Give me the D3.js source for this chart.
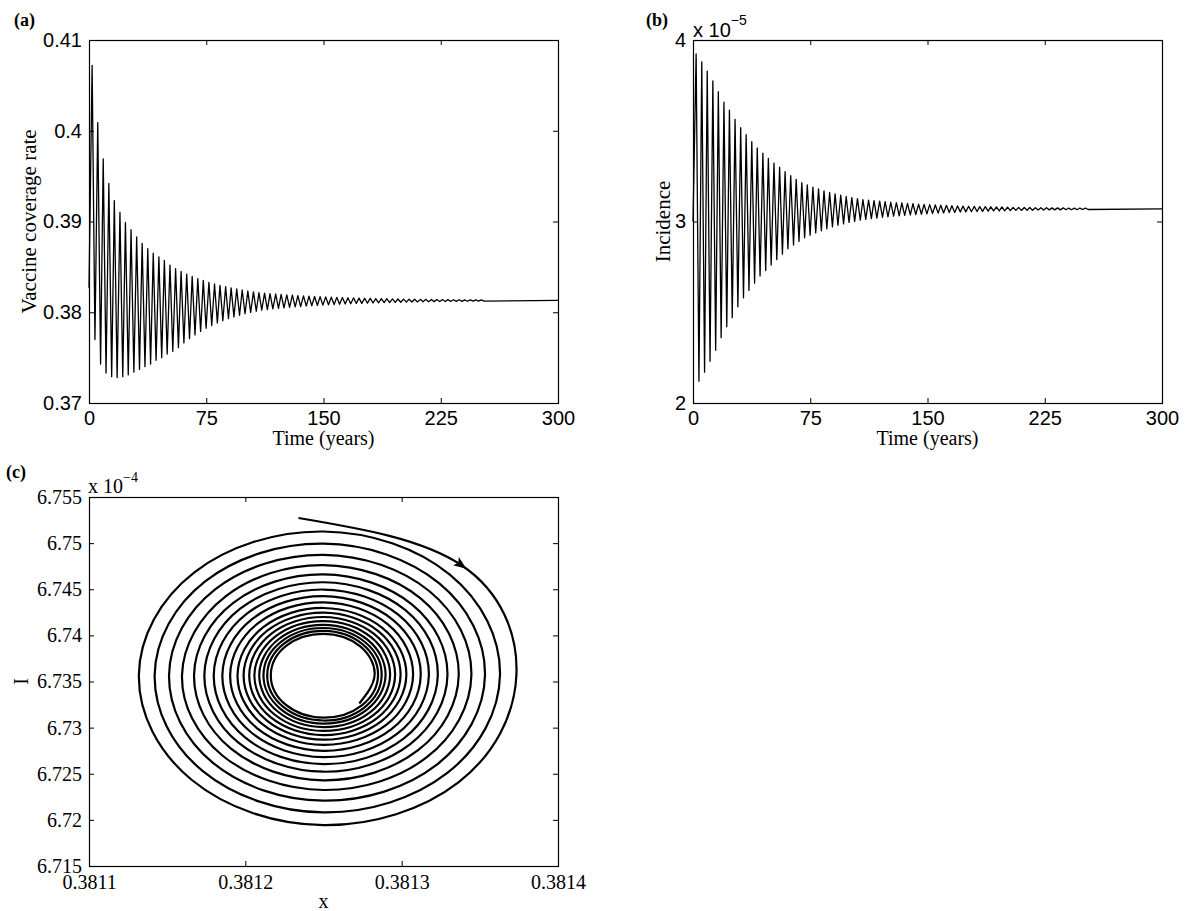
<!DOCTYPE html>
<html>
<head>
<meta charset="utf-8">
<script src="https://cdn.jsdelivr.net/npm/d3@7"></script>
<style>
  body { margin: 0; background: #fff; }
  .sans { font-family: "Liberation Sans", Arial, sans-serif; }
  .serif { font-family: "Liberation Serif", "Times New Roman", serif; }
</style>
</head>
<body>
<svg id="fig" width="1186" height="911"></svg>
<script>
// ---- tick labels ----
const timeTicks = [0, 75, 150, 225, 300];
const coverageTicks = [0.37, 0.38, 0.39, 0.4, 0.41];
const incidenceTicks = [2, 3, 4];          // x 10^-5
const phaseXTicks = [0.3811, 0.3812, 0.3813, 0.3814];
const phaseITicks = [6.715, 6.72, 6.725, 6.73, 6.735, 6.74, 6.745, 6.75, 6.755]; // x 10^-4

// ---- time series, read as local maxima / minima ----
const peakTimes = [2.0,5.6,9.1,12.7,16.2,19.8,23.3,26.9,30.5,34.0,37.6,41.1,44.7,48.2,51.8,55.4,
  58.9,62.5,66.0,69.6,73.1,76.7,80.3,83.8,87.4,90.9,94.5,98.0,101.6,105.2,108.7,112.3,115.8,119.4,
  122.9,126.5,130.1,133.6,137.2,140.7,144.3,147.8,151.4,155.0,158.5,162.1,165.6,169.2,172.7,176.3,
  179.9,183.4,187.0,190.5,194.1,197.6,201.2,204.7,208.3,211.9,215.4,219.0,222.5,226.1,229.6,233.2,
  236.8,240.3,243.9,247.4,251.0];
const troughTimes = [3.8,7.4,10.9,14.5,18.0,21.6,25.1,28.7,32.3,35.8,39.4,42.9,46.5,50.0,53.6,57.2,
  60.7,64.3,67.8,71.4,74.9,78.5,82.1,85.6,89.2,92.7,96.3,99.8,103.4,107.0,110.5,114.1,117.6,121.2,
  124.7,128.3,131.9,135.4,139.0,142.5,146.1,149.6,153.2,156.8,160.3,163.9,167.4,171.0,174.5,178.1,
  181.7,185.2,188.8,192.3,195.9,199.4,203.0,206.5,210.1,213.7,217.2,220.8,224.3,227.9,231.4,235.0,
  238.6,242.1,245.7,249.2,252.8];

const coverageStart = 0.3827;
const coverageEnd = 0.3813;
const coveragePeaks = [.4072,.4009,.3969,.3942,.3923,.3910,.3899,.3891,.3883,.3876,.3870,.3865,.3861,.3857,.3852,.3848,
  .38449,.38421,.38395,.38371,.38350,.38330,.38312,.38296,.38281,.38268,.38256,.38245,.38234,.38225,.38217,
  .38211,.38206,.38201,.38197,.38192,.38188,.38184,.38181,.38178,.38174,.38172,.38169,.38166,.38164,.38162,
  .38160,.38158,.38156,.38154,.38153,.38151,.38150,.38149,.38147,.38146,.38145,.38144,.38143,.38142,.38142,
  .38141,.38140,.38140,.38139,.38138,.38138,.38137,.38137,.38136,.38136];
const coverageTroughs = [.3770,.3743,.3733,.3729,.3728,.3729,.3731,.3734,.3737,.3740,.3743,.3747,.3750,.3754,.3757,.3761,
  .37662,.37709,.37751,.37789,.37823,.37854,.37881,.37906,.37929,.37949,.37967,.37983,.37998,.38011,.38023,
  .38030,.38037,.38043,.38048,.38054,.38059,.38063,.38068,.38072,.38075,.38079,.38082,.38085,.38088,.38091,
  .38094,.38096,.38098,.38100,.38102,.38104,.38106,.38107,.38109,.38110,.38111,.38113,.38114,.38115,.38116,
  .38117,.38118,.38118,.38119,.38120,.38120,.38121,.38122,.38122,.38123];

const incidenceStart = 3.0;
const incidenceEnd = 3.07;
const incidencePeaks = [3.923,3.880,3.829,3.774,3.715,3.657,3.614,3.563,3.517,3.478,3.440,3.405,3.376,3.348,3.321,3.299,
  3.274,3.252,3.232,3.214,3.201,3.189,3.179,3.169,3.160,3.152,3.145,3.138,3.132,3.126,3.121,
  3.118,3.115,3.112,3.109,3.106,3.104,3.102,3.100,3.098,3.096,3.094,3.093,3.091,3.090,3.089,
  3.087,3.086,3.085,3.084,3.083,3.082,3.082,3.081,3.080,3.080,3.079,3.078,3.078,3.077,3.077,
  3.076,3.076,3.076,3.075,3.075,3.075,3.074,3.074,3.074,3.0735];
const incidenceTroughs = [2.12,2.17,2.23,2.29,2.36,2.42,2.47,2.53,2.58,2.62,2.66,2.70,2.73,2.76,2.79,2.82,2.85,2.87,2.89,2.91,
  2.924,2.937,2.949,2.960,2.970,2.979,2.987,2.995,3.001,3.008,3.012,
  3.016,3.019,3.023,3.026,3.029,3.031,3.034,3.036,3.038,3.040,3.042,3.044,3.046,3.047,3.049,
  3.050,3.052,3.053,3.054,3.055,3.056,3.057,3.058,3.058,3.059,3.060,3.061,3.061,3.062,3.062,
  3.063,3.063,3.064,3.064,3.064,3.065,3.065,3.065,3.066,3.066];

// ---- phase plane (x, I x 10^-4): 8 points per turn, clockwise, spiralling in ----
const phaseX = [
  0.3812340,0.3813383,0.3813734,0.3813363,0.3812500,0.3811658,0.3811319,0.3811674,
  0.3812500,0.3813308,0.3813629,0.3813290,0.3812500,0.3811728,0.3811420,0.3811745,
  0.3812500,0.3813239,0.3813533,0.3813223,0.3812500,0.3811793,0.3811512,0.3811809,
  0.3812500,0.3813176,0.3813446,0.3813161,0.3812500,0.3811853,0.3811595,0.3811874,
  0.3812500,0.3813119,0.3813365,0.3813105,0.3812500,0.3811908,0.3811672,0.3811921,
  0.3812500,0.3813067,0.3813293,0.3813055,0.3812500,0.3811956,0.3811738,0.3811967,
  0.3812500,0.3813024,0.3813231,0.3813012,0.3812500,0.3811998,0.3811798,0.3812008,
  0.3812500,0.3812982,0.3813174,0.3812972,0.3812500,0.3812038,0.3811853,0.3812047,
  0.3812500,0.3812944,0.3813122,0.3812935,0.3812500,0.3812074,0.3811903,0.3812082,
  0.3812500,0.3812910,0.3813073,0.3812901,0.3812500,0.3812107,0.3811950,0.3812115,
  0.3812500,0.3812878,0.3813030,0.3812871,0.3812500,0.3812136,0.3811989,0.3812142,
  0.3812500,0.3812852,0.3812993,0.3812845,0.3812500,0.3812161,0.3812025,0.3812167,
  0.3812500,0.3812827,0.3812958,0.3812821,0.3812500,0.3812185,0.3812058,0.3812191,
  0.3812500,0.3812804,0.3812926,0.3812799,0.3812500,0.3812207,0.3812089,0.3812212,
  0.3812500,0.3812783,0.3812897,0.3812778,0.3812500,0.3812226,0.3812116,0.3812230,
  0.3812500,0.3812765,0.3812872,0.3812761,0.3812500,0.3812243,0.3812140,0.3812247,
  0.3812500,0.3812749,0.3812849,0.3812745,0.3812500,0.3812260,0.3812163,0.3812263,
  0.3812500,0.3812733,0.3812827,0.3812729];
const phaseI = [
  6.75272,6.74760,6.73570,6.72407,6.71943,6.72432,6.73570,6.74683,
  6.75126,6.74658,6.73570,6.72506,6.72081,6.72529,6.73570,6.74588,
  6.74994,6.74566,6.73570,6.72596,6.72208,6.72617,6.73570,6.74502,
  6.74873,6.74481,6.73570,6.72679,6.72324,6.72698,6.73570,6.74423,
  6.74762,6.74404,6.73570,6.72755,6.72429,6.72772,6.73570,6.74350,
  6.74661,6.74334,6.73570,6.72822,6.72522,6.72837,6.73570,6.74289,
  6.74576,6.74274,6.73570,6.72880,6.72604,6.72894,6.73570,6.74233,
  6.74497,6.74219,6.73570,6.72934,6.72680,6.72947,6.73570,6.74181,
  6.74425,6.74169,6.73570,6.72984,6.72749,6.72995,6.73570,6.74133,
  6.74358,6.74122,6.73570,6.73029,6.72813,6.73040,6.73570,6.74089,
  6.74297,6.74079,6.73570,6.73070,6.72869,6.73079,6.73570,6.74053,
  6.74246,6.74044,6.73570,6.73105,6.72918,6.73113,6.73570,6.74019,
  6.74199,6.74011,6.73570,6.73137,6.72964,6.73145,6.73570,6.73987,
  6.74155,6.73980,6.73570,6.73168,6.73006,6.73175,6.73570,6.73958,
  6.74114,6.73951,6.73570,6.73195,6.73044,6.73201,6.73570,6.73933,
  6.74080,6.73928,6.73570,6.73218,6.73077,6.73224,6.73570,6.73910,
  6.74048,6.73905,6.73570,6.73241,6.73108,6.73246,6.73570,6.73889,
  6.74017,6.73884,6.73570,6.73261];
const arrowIndex = 1;

const svg = d3.select("#fig");

// box with inward ticks on all four sides (matlab style)
function frame(g, x, y, xTicks, yTicks, font, size, xPad) {
  const w = x.range()[1], h = y.range()[0];
  const style = (a) => a.attr("font-family", null).attr("font-size", null).attr("class", font);

  g.append("g").attr("transform", `translate(0,${h})`)
    .call(d3.axisBottom(x).tickValues(xTicks).tickFormat(String).tickSizeInner(-5).tickSizeOuter(0).tickPadding(xPad))
    .call(style);
  g.append("g")
    .call(d3.axisTop(x).tickValues(xTicks).tickFormat("").tickSizeInner(-5).tickSizeOuter(0));
  g.append("g")
    .call(d3.axisLeft(y).tickValues(yTicks).tickFormat(String).tickSizeInner(-5).tickSizeOuter(0).tickPadding(7))
    .call(style);
  g.append("g").attr("transform", `translate(${w},0)`)
    .call(d3.axisRight(y).tickValues(yTicks).tickFormat("").tickSizeInner(-5).tickSizeOuter(0));

  g.selectAll(".domain").remove();
  g.selectAll(".tick text").attr("font-size", size).attr("fill", "#000");
  g.append("rect")
    .attr("x", 0.5).attr("y", 0.5)
    .attr("width", w).attr("height", h)
    .attr("fill", "none").attr("stroke", "#000").attr("stroke-width", 1.2);
}

function series(peaks, troughs, start, end) {
  const pts = [[0, start]];
  peakTimes.forEach((t, i) => {
    pts.push([t, peaks[i]]);
    pts.push([troughTimes[i], troughs[i]]);
  });
  pts.push([300, end]);
  return pts;
}

function timePanel(left, yDomain, yTicks, pts, ylabel, ylabelX) {
  const w = 469, h = 363;
  const g = svg.append("g").attr("transform", `translate(${left},40)`);
  const x = d3.scaleLinear().domain([0, 300]).range([0, w]);
  const y = d3.scaleLinear().domain(yDomain).range([h, 0]);

  g.append("path")
    .datum(pts)
    .attr("fill", "none")
    .attr("stroke", "#000")
    .attr("stroke-width", 1.3)
    .attr("stroke-linejoin", "round")
    .attr("d", d3.line().x(d => x(d[0])).y(d => y(d[1])));

  frame(g, x, y, timeTicks, yTicks, "sans", 20, 8);

  g.append("text").attr("class", "serif").attr("font-size", 20)
    .attr("x", w / 2).attr("y", 405).attr("text-anchor", "middle")
    .text("Time (years)");
  g.append("text").attr("class", "serif").attr("font-size", 21)
    .attr("transform", `translate(${ylabelX},${h / 2}) rotate(-90)`)
    .attr("text-anchor", "middle")
    .text(ylabel);
  return g;
}

// (a)
timePanel(89, [0.37, 0.41], coverageTicks,
  series(coveragePeaks, coverageTroughs, coverageStart, coverageEnd),
  "Vaccine coverage rate", -53);

// (b)
const gb = timePanel(693, [2, 4], incidenceTicks,
  series(incidencePeaks, incidenceTroughs, incidenceStart, incidenceEnd),
  "Incidence", -23);
const expB = gb.append("text").attr("class", "sans").attr("font-size", 20).attr("x", 0).attr("y", -3);
expB.append("tspan").text("x 10");
expB.append("tspan").attr("font-size", 14).attr("dy", -12).text("\u22125");

// (c)
{
  const w = 469, h = 369;
  const g = svg.append("g").attr("transform", "translate(89,497)");
  const x = d3.scaleLinear().domain([0.3811, 0.3814]).range([0, w]);
  const y = d3.scaleLinear().domain([6.715, 6.755]).range([h, 0]);
  const pts = phaseX.map((v, i) => [v, phaseI[i]]);

  g.append("path")
    .datum(pts)
    .attr("fill", "none")
    .attr("stroke", "#000")
    .attr("stroke-width", 2.2)
    .attr("d", d3.line().x(d => x(d[0])).y(d => y(d[1])).curve(d3.curveNatural));

  // arrow head along the outer turn
  const p = pts[arrowIndex], a = pts[arrowIndex - 1], b = pts[arrowIndex + 1];
  const ang = Math.atan2(y(b[1]) - y(a[1]), x(b[0]) - x(a[0])) * 180 / Math.PI;
  g.append("path")
    .attr("transform", `translate(${x(p[0])},${y(p[1])}) rotate(${ang})`)
    .attr("d", "M6,0 L-7,-5 L-4,0 L-7,5 Z")
    .attr("fill", "#000");

  frame(g, x, y, phaseXTicks, phaseITicks, "serif", 20, 9);

  g.append("text").attr("class", "serif").attr("font-size", 20)
    .attr("x", w / 2).attr("y", 411).attr("text-anchor", "middle").text("x");
  g.append("text").attr("class", "serif").attr("font-size", 20)
    .attr("transform", `translate(-61,${h / 2}) rotate(-90)`)
    .attr("text-anchor", "middle").text("I");
  const expC = g.append("text").attr("class", "serif").attr("font-size", 20).attr("x", -1).attr("y", -4);
  expC.append("tspan").text("x 10");
  expC.append("tspan").attr("font-size", 14).attr("dy", -11).text("\u22124");
}

// panel letters
svg.append("text").attr("class", "serif").attr("font-weight", "bold").attr("font-size", 18)
  .attr("x", 14).attr("y", 26).text("(a)");
svg.append("text").attr("class", "serif").attr("font-weight", "bold").attr("font-size", 18)
  .attr("x", 646).attr("y", 26).text("(b)");
svg.append("text").attr("class", "serif").attr("font-weight", "bold").attr("font-size", 18)
  .attr("x", 6).attr("y", 478).text("(c)");
</script>
</body>
</html>
